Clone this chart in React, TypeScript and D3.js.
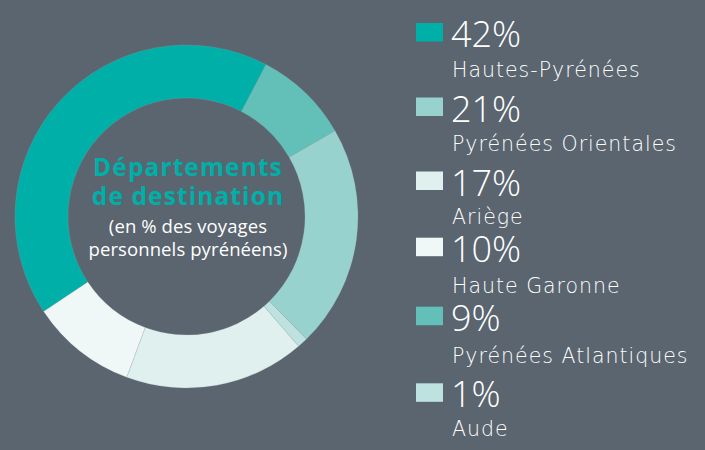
import React from "react";
import * as d3 from "d3";

const departments = ["Hautes-Pyrénées", "Pyrénées Atlantiques", "Pyrénées Orientales", "Aude", "Ariège", "Haute Garonne"];
const shares = [42, 9, 21, 1, 17, 10];
const sliceColors = ["#00b0a8", "#62c0b8", "#98d2ce", "#bde2df", "#e0f0ef", "#f0f8f7"];

const legendOrder = ["Hautes-Pyrénées", "Pyrénées Orientales", "Ariège", "Haute Garonne", "Pyrénées Atlantiques", "Aude"];
const legendBaselines = [47, 121.5, 195.5, 261.7, 330.7, 407.3];
const labelBaselines = [76.7, 150.5, 223.5, 293.3, 363.3, 435.5];

const titleLines = ["Départements", "de destination"];
const subtitleLines = ["(en % des voyages", "personnels pyrénéens)"];

const W = 705;
const H = 450;
const BG = "#5a6570";
const cx = 186.5;
const cy = 216.5;
const rOuter = 171.5;
const rInner = 118.5;

export default function App() {
  const data = departments.map((d, i) => ({ name: d, value: shares[i], color: sliceColors[i] }));
  const startDeg = 236.4;
  const pie = d3
    .pie<any>()
    .sort(null)
    .value((d: any) => d.value)
    .startAngle((startDeg * Math.PI) / 180)
    .endAngle(((startDeg + 360) * Math.PI) / 180);
  const arc = d3.arc<any>().innerRadius(rInner).outerRadius(rOuter);
  const arcs = pie(data);
  const colorOf = d3.scaleOrdinal<string, string>().domain(departments).range(sliceColors);
  const valueOf = new Map(departments.map((d, i) => [d, shares[i]]));

  return (
    <div style={{ position: "fixed", left: 0, top: 0, width: W, height: H }}>
      <svg width={W} height={H} style={{ display: "block", background: BG }}>
        <rect x={0} y={0} width={W} height={H} fill={BG} />
        <g transform={`translate(${cx},${cy})`}>
          {arcs.map((a: any, i: number) => (
            <path key={i} d={arc(a) as string} fill={a.data.color} stroke="#9aa8ac" strokeOpacity={0.35} strokeWidth={0.6} />
          ))}
        </g>
        <g fontFamily="'Open Sans', sans-serif" textAnchor="middle">
          {titleLines.map((t, i) => (
            <text key={t} x={188} y={176 + i * 29} fill="#00b0a8" fontWeight={700} fontSize={24.5} letterSpacing={1.1}>
              {t}
            </text>
          ))}
          {subtitleLines.map((t, i) => (
            <text key={t} x={188} y={233 + i * 22.5} fill="#ffffff" fontWeight={400} fontSize={18.5} letterSpacing={0.1}>
              {t}
            </text>
          ))}
        </g>
        <g>
          {legendOrder.map((name, i) => (
            <g key={name}>
              <rect x={416} y={legendBaselines[i] - 24} width={27} height={18.5} fill={colorOf(name)} />
              <text x={451} y={legendBaselines[i]} fill="#ffffff" fontFamily="'Open Sans', sans-serif" fontWeight={300} fontSize={36}>
                {valueOf.get(name)}%
              </text>
              <text x={452} y={labelBaselines[i]} fill="#ffffff" fontFamily="'DejaVu Sans', sans-serif" fontWeight={200} fontSize={20.5} letterSpacing={1.0}>
                {name}
              </text>
            </g>
          ))}
        </g>
      </svg>
    </div>
  );
}
